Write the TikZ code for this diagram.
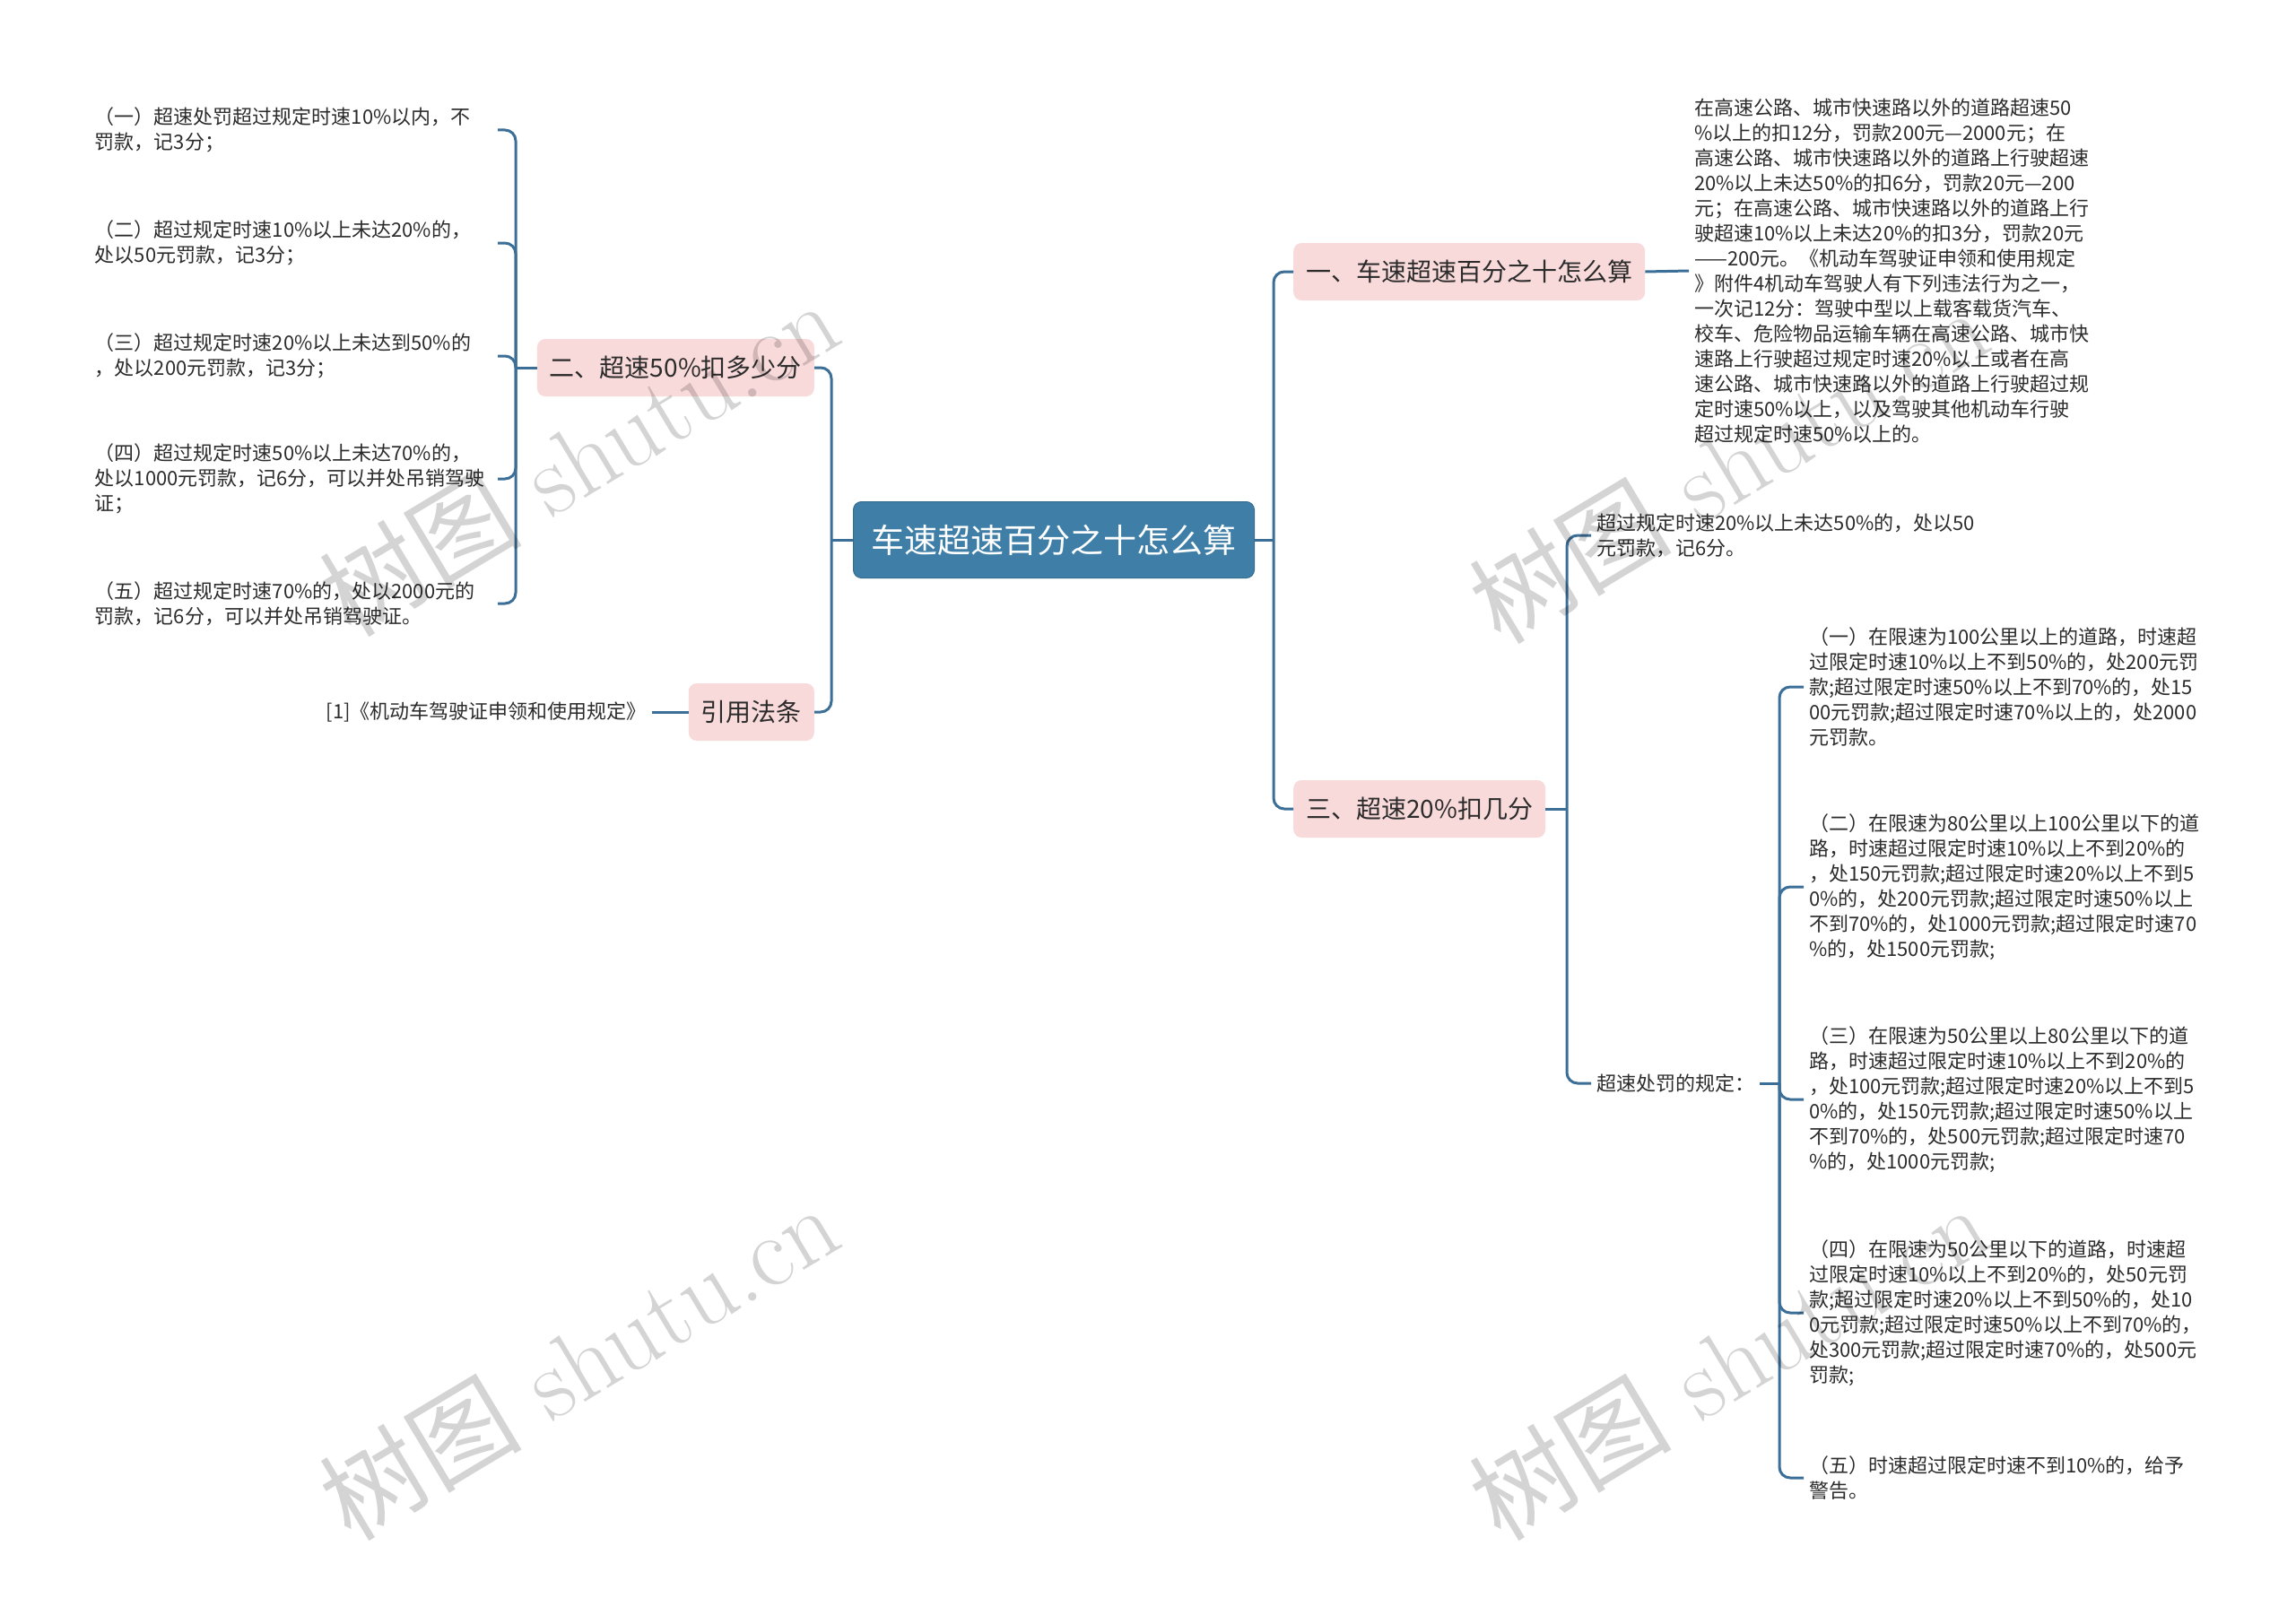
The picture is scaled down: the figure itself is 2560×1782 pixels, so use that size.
\documentclass[tikz,border=0pt]{standalone}
\usepackage{fontspec}
\newfontfamily\cjk{Noto Sans CJK SC}
\usetikzlibrary{calc}
\usepackage{xcolor}
\definecolor{linkblue}{HTML}{3B6F97}
\definecolor{rootblue}{HTML}{3F7FA7}
\definecolor{branchpink}{HTML}{F9DADA}
\definecolor{leaftext}{HTML}{2B2B2B}

\begin{document}
\begin{tikzpicture}[x=1pt,y=-1pt,
        link/.style={draw=linkblue, line width=3pt, rounded corners=12pt},
        rootbox/.style={fill=rootblue, draw=rootblue!85!black, line width=1pt, rounded corners=9pt,
            text=white, font=\cjk\fontsize{37}{44}\selectfont, minimum height=85pt, inner xsep=20pt},
        branch/.style={fill=branchpink, rounded corners=9pt, text=leaftext,
            font=\cjk\fontsize{28}{34}\selectfont, minimum height=64pt, inner xsep=14pt},
        leaf/.style={text=leaftext, font=\cjk\fontsize{22}{28}\selectfont, align=left, inner sep=6pt},
        wmark/.style={text=black, opacity=0.17, rotate=31, font=\fontsize{113}{118}\selectfont}]

        \useasboundingbox (0,0) rectangle (2560,1782);

        \coordinate (sR) at (1420,602);
        \coordinate (sL) at (927,602);
        \coordinate (s2) at (575,410);
        \coordinate (s3) at (1747,902);
        \coordinate (s32) at (1984,1208);

        \node[rootbox] (root) at (1175,602) {车速超速百分之十怎么算};

        \node[branch, anchor=west] (b1) at (1442,303) {一、车速超速百分之十怎么算};
        \node[branch, anchor=west] (b3) at (1442,902) {三、超速20\%扣几分};
        \node[branch, anchor=east] (b2) at (908,410) {二、超速50\%扣多少分};
        \node[branch, anchor=east] (b4) at (908,794) {引用法条};

        % right side
        \node[leaf, anchor=west, text width=446pt] (c1) at (1883,302) {在高速公路、城市快速路以外的道路超速50\\\%以上的扣12分，罚款200元—2000元；在\\高速公路、城市快速路以外的道路上行驶超速\\20\%以上未达50\%的扣6分，罚款20元—200\\元；在高速公路、城市快速路以外的道路上行\\驶超速10\%以上未达20\%的扣3分，罚款20元\\——200元。《机动车驾驶证申领和使用规定\\》附件4机动车驾驶人有下列违法行为之一，\\一次记12分：驾驶中型以上载客载货汽车、\\校车、危险物品运输车辆在高速公路、城市快\\速路上行驶超过规定时速20\%以上或者在高\\速公路、城市快速路以外的道路上行驶超过规\\定时速50\%以上，以及驾驶其他机动车行驶\\超过规定时速50\%以上的。};
        \node[leaf, anchor=west] (c31) at (1774,597) {超过规定时速20\%以上未达50\%的，处以50\\元罚款，记6分。};
        \node[leaf, anchor=west] (c32) at (1774,1208) {超速处罚的规定：};

        \node[leaf, anchor=west, text width=460pt] (d1) at (2011,766) {（一）在限速为100公里以上的道路，时速超\\过限定时速10\%以上不到50\%的，处200元罚\\款;超过限定时速50\%以上不到70\%的，处15\\00元罚款;超过限定时速70\%以上的，处2000\\元罚款。};
        \node[leaf, anchor=west, text width=460pt] (d2) at (2011,989) {（二）在限速为80公里以上100公里以下的道\\路，时速超过限定时速10\%以上不到20\%的\\，处150元罚款;超过限定时速20\%以上不到5\\0\%的，处200元罚款;超过限定时速50\%以上\\不到70\%的，处1000元罚款;超过限定时速70\\\%的，处1500元罚款;};
        \node[leaf, anchor=west, text width=460pt] (d3) at (2011,1226) {（三）在限速为50公里以上80公里以下的道\\路，时速超过限定时速10\%以上不到20\%的\\，处100元罚款;超过限定时速20\%以上不到5\\0\%的，处150元罚款;超过限定时速50\%以上\\不到70\%的，处500元罚款;超过限定时速70\\\%的，处1000元罚款;};
        \node[leaf, anchor=west, text width=460pt] (d4) at (2011,1464) {（四）在限速为50公里以下的道路，时速超\\过限定时速10\%以上不到20\%的，处50元罚\\款;超过限定时速20\%以上不到50\%的，处10\\0元罚款;超过限定时速50\%以上不到70\%的，\\处300元罚款;超过限定时速70\%的，处500元\\罚款;};
        \node[leaf, anchor=west, text width=460pt] (d5) at (2011,1648) {（五）时速超过限定时速不到10\%的，给予\\警告。};

        % left side
        \node[leaf, anchor=east, text width=443pt] (e1) at (555,145) {（一）超速处罚超过规定时速10\%以内，不\\罚款，记3分；};
        \node[leaf, anchor=east, text width=443pt] (e2) at (555,271) {（二）超过规定时速10\%以上未达20\%的，\\处以50元罚款，记3分；};
        \node[leaf, anchor=east, text width=443pt] (e3) at (555,397) {（三）超过规定时速20\%以上未达到50\%的\\，处以200元罚款，记3分；};
        \node[leaf, anchor=east, text width=443pt] (e4) at (555,534) {（四）超过规定时速50\%以上未达70\%的，\\处以1000元罚款，记6分，可以并处吊销驾驶\\证；};
        \node[leaf, anchor=east, text width=443pt] (e5) at (555,673) {（五）超过规定时速70\%的，处以2000元的\\罚款，记6分，可以并处吊销驾驶证。};
        \node[leaf, anchor=east] (f1) at (727,794) {[1]《机动车驾驶证申领和使用规定》};

        \draw[link] (root.east) -- (sR);
        \draw[link] (b1.west) -| (sR) |- (b3.west);
        \draw[link] (root.west) -- (sL);
        \draw[link] (b2.east) -| (sL) |- (b4.east);

        \draw[link] (b1.east) -- (c1.west);
        \draw[link] (b3.east) -- (s3);
        \draw[link] (c31.west) -| (s3) |- (c32.west);
        \draw[link] (c32.east) -- (s32);
        \draw[link] (d1.west) -| (s32) |- (d5.west);
        \foreach \n in {d2,d3,d4}{
            \draw[link] (s32) |- (\n.west);
        }

        \draw[link] (b2.west) -- (s2);
        \draw[link] (e1.east) -| (s2) |- (e5.east);
        \foreach \n in {e2,e3,e4}{
            \draw[link] (s2) |- (\n.east);
        }
        \draw[link] (f1.east) -- (b4.west);

        % watermarks
        \node[wmark] (wm1) at (645,510) {{\cjk 树图} shutu.cn};
        \node[wmark] (wm2) at (1927,518) {{\cjk 树图} shutu.cn};
        \node[wmark] (wm3) at (645,1518) {{\cjk 树图} shutu.cn};
        \node[wmark] (wm4) at (1927,1518) {{\cjk 树图} shutu.cn};
    \end{tikzpicture}
\end{document}
